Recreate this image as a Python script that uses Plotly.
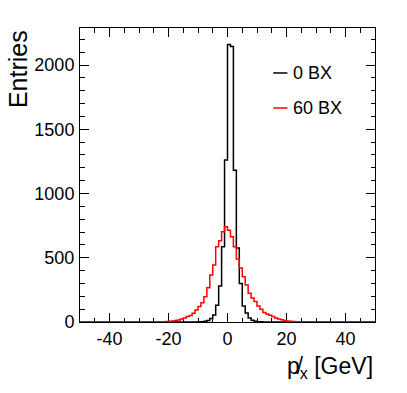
import plotly.graph_objects as go

# 1 GeV bins from -50 to 50; only bins between -25 and 25 are filled
bin_edges_core = list(range(-25, 26))

# entries per bin, bins [-25,-24] ... [24,25]
counts_0bx = [0, 0, 0, 0, 0, 0, 0, 0, 0, 0,
              0, 0, 0, 0, 0, 1, 2, 5, 12, 28,
              55, 130, 280, 585, 1260, 2160, 2145, 1180, 575, 300,
              124, 70, 31, 14, 6, 2, 1, 0, 0, 0,
              0, 0, 0, 0, 0, 0, 0, 0, 0, 0]
counts_60bx = [0, 1, 1, 2, 3, 5, 8, 12, 16, 24,
               31, 42, 50, 68, 93, 120, 150, 197, 267, 365,
               443, 586, 632, 702, 741, 715, 664, 586, 490, 420,
               352, 288, 223, 187, 160, 124, 99, 73, 62, 52,
               42, 31, 23, 17, 12, 8, 6, 4, 2, 1]

labels = ["0 BX", "60 BX"]
colors = ["black", "red"]

x_tick_vals = [-40, -20, 0, 20, 40]
x_tick_text = ["-40", "-20", "0", "20", "40"]

# pad with empty bins out to the full axis range
edges = list(range(-50, -25)) + bin_edges_core + list(range(26, 51))
pad_lo = [0] * 25
pad_hi = [0] * 25

fig = go.Figure()
for counts, name, col in zip([counts_0bx, counts_60bx], labels, colors):
    y = pad_lo + counts + pad_hi
    fig.add_trace(go.Scatter(
        x=edges, y=y + [y[-1]], mode="lines", line_shape="hv",
        line=dict(color=col, width=1.5), name=name, showlegend=False,
    ))

FONT = "Liberation Sans, Arial, Helvetica, sans-serif"

fig.update_layout(
    width=407, height=393,
    margin=dict(l=80, r=32, t=28, b=71),
    plot_bgcolor="white", paper_bgcolor="white",
    font=dict(family=FONT, size=18, color="black"),
    xaxis=dict(
        range=[-50, 50], showgrid=False, zeroline=False,
        showline=True, linecolor="black", linewidth=1, mirror="allticks",
        ticks="inside", ticklen=9, tickcolor="black",
        tickvals=x_tick_vals, ticktext=x_tick_text,
        minor=dict(dtick=5, ticks="inside", ticklen=4.5, tickcolor="black", showgrid=False),
        layer="below traces",
    ),
    yaxis=dict(
        range=[0, 2288], showgrid=False, zeroline=False,
        showline=True, linecolor="black", linewidth=1, mirror="allticks",
        ticks="inside", ticklen=9, tickcolor="black", dtick=500,
        minor=dict(dtick=100, ticks="inside", ticklen=4.5, tickcolor="black", showgrid=False),
        ticklabelstandoff=1,
        layer="below traces",
    ),
)

# axis titles, ROOT style (aligned to the axis ends)
fig.add_annotation(text="p\u0338<sub>x</sub> [GeV]", xref="paper", yref="paper",
                   x=1.0, y=-0.098, xanchor="right", yanchor="top", showarrow=False,
                   font=dict(family=FONT, size=23))
fig.add_annotation(text="Entries", xref="paper", yref="paper", textangle=-90,
                   x=-0.21, y=1.0, xanchor="center", yanchor="top", showarrow=False,
                   font=dict(family=FONT, size=25))

# legend, drawn by hand like the ROOT TLegend
leg_y = [0.847, 0.728]
for name, col, ly in zip(labels, colors, leg_y):
    fig.add_shape(type="line", xref="paper", yref="paper",
                  x0=0.655, x1=0.703, y0=ly, y1=ly, line=dict(color=col, width=1.5))
    fig.add_annotation(text=name, xref="paper", yref="paper", x=0.716, y=ly,
                       xanchor="left", yanchor="middle", showarrow=False,
                       font=dict(family=FONT, size=18))

# drop the default page margin so the figure sits at the window corner
fig.write_html("out.html", config={"displayModeBar": False},
               post_script="document.body.style.margin='0';")
